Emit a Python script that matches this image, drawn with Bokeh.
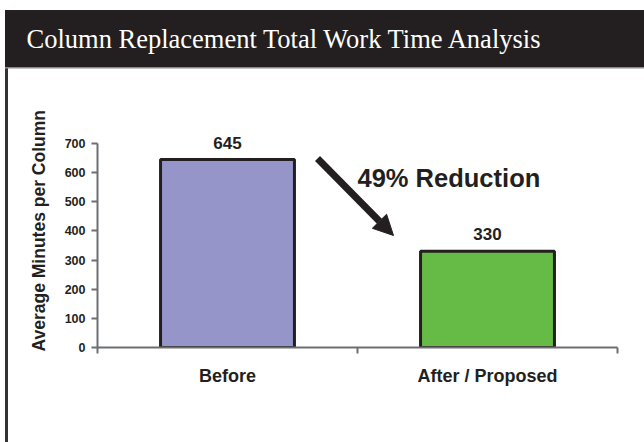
from bokeh.plotting import figure
from bokeh.models import (Range1d, FixedTicker, Label, Arrow, NormalHead,
                          ColumnDataSource, Title)
from bokeh.core.properties import value
from bokeh.embed import file_html
from bokeh.resources import INLINE

# ---------------- data ----------------
title_text = "Column Replacement Total Work Time Analysis"
categories = ["Before", "After / Proposed"]
minutes = [645, 330]
y_ticks = [0, 100, 200, 300, 400, 500, 600, 700]
y_label = "Average Minutes per Column"
callout = "49% Reduction"

# ---------------- style / layout ----------------
W, H = 644, 442
FL, FR, FT, FB = 97, 617, 60, 347             # frame edges in page px
AX_PX = 204 / 700                             # px per minute
YMAX = (FB - FT) / AX_PX
XUNIT = (FR - FL) / len(categories)
DARK = "#231f20"
GREY = "#6d6e71"
bar_colors = ["#9595c9", "#66bb46"]

page_bg = ", ".join([
    "linear-gradient(#231f20, #231f20) 5px 10px / 639px 57px no-repeat",
    "linear-gradient(#8a8a8a, #8a8a8a) 5px 67px / 639px 1.5px no-repeat",
    "linear-gradient(#333333, #333333) 5px 67px / 3px 375px no-repeat",
    "#ffffff",
])


def cx(px):
    return (px - FL) / XUNIT


def cy(py):
    return (FB - py) / AX_PX


xs = [i + 0.5 for i in range(len(categories))]
src = ColumnDataSource(dict(x=xs, top=minutes, color=bar_colors,
                            label=[str(v) for v in minutes]))

p = figure(width=W, height=H, output_backend="svg", toolbar_location=None,
           x_range=Range1d(0, len(categories)), y_range=Range1d(0, YMAX),
           min_border_left=FL, min_border_right=W - FR,
           min_border_top=FT, min_border_bottom=H - FB,
           styles={"background": page_bg})
p.outline_line_color = None
p.background_fill_color = None
p.background_fill_alpha = 0
p.border_fill_color = None
p.border_fill_alpha = 0
p.xgrid.visible = False
p.ygrid.visible = False

# title (white on the dark header band)
p.title.text = title_text
p.title.text_color = "white"
p.title.text_font = "Liberation Serif"
p.title.text_font_style = "normal"
p.title.text_font_size = "26.5px"
p.title.align = "left"
p.title.offset = 26 - FL
p.title.standoff = 14

# bars
p.vbar(x="x", top="top", width=0.515, bottom=0, source=src,
       fill_color="color", line_color=DARK, line_width=3)
p.text(x="x", y="top", text="label", source=src, y_offset=-17,
       text_align="center", text_baseline="middle",
       text_font=value("Liberation Sans"), text_font_style="bold",
       text_font_size="17px", text_color=DARK)

# y axis
ya = p.yaxis[0]
ya.ticker = FixedTicker(ticks=y_ticks)
ya.bounds = (0, 700)
ya.axis_line_color = GREY
ya.axis_line_width = 2
ya.major_tick_line_color = GREY
ya.major_tick_line_width = 2
ya.major_tick_out = 6
ya.major_tick_in = 0
ya.minor_tick_line_color = None
ya.major_label_standoff = 6
ya.major_label_text_font = "Liberation Sans"
ya.major_label_text_font_style = "bold"
ya.major_label_text_font_size = "12.5px"
ya.major_label_text_color = DARK

# y axis title, placed as a side title so it can sit along the 0-700 span
p.add_layout(Title(text=y_label, align="left", offset=-4, standoff=26,
                   text_font="Liberation Sans", text_font_style="bold",
                   text_font_size="17.5px", text_color=DARK), "left")

# x axis
xa = p.xaxis[0]
xa.ticker = FixedTicker(ticks=xs, minor_ticks=list(range(len(categories) + 1)))
xa.major_label_overrides = {x: c for x, c in zip(xs, categories)}
xa.axis_line_color = GREY
xa.axis_line_width = 2
xa.major_tick_line_color = None
xa.major_tick_out = 0
xa.major_tick_in = 0
xa.minor_tick_line_color = GREY
xa.minor_tick_line_width = 2
xa.minor_tick_out = 6
xa.minor_tick_in = 0
xa.major_label_standoff = 12
xa.major_label_text_font = "Liberation Sans"
xa.major_label_text_font_style = "bold"
xa.major_label_text_font_size = "18px"
xa.major_label_text_color = DARK

# callout arrow and text
p.add_layout(Arrow(end=NormalHead(size=20, fill_color=DARK, line_color=DARK),
                   x_start=cx(317), y_start=cy(158), x_end=cx(393), y_end=cy(235),
                   line_color=DARK, line_width=7))
p.add_layout(Label(x=cx(357), y=cy(177.5), text=callout, text_color=DARK,
                   text_font="Liberation Sans", text_font_style="bold",
                   text_font_size="25.5px", text_baseline="middle"))

open("out.html", "w").write(file_html(p, INLINE))
